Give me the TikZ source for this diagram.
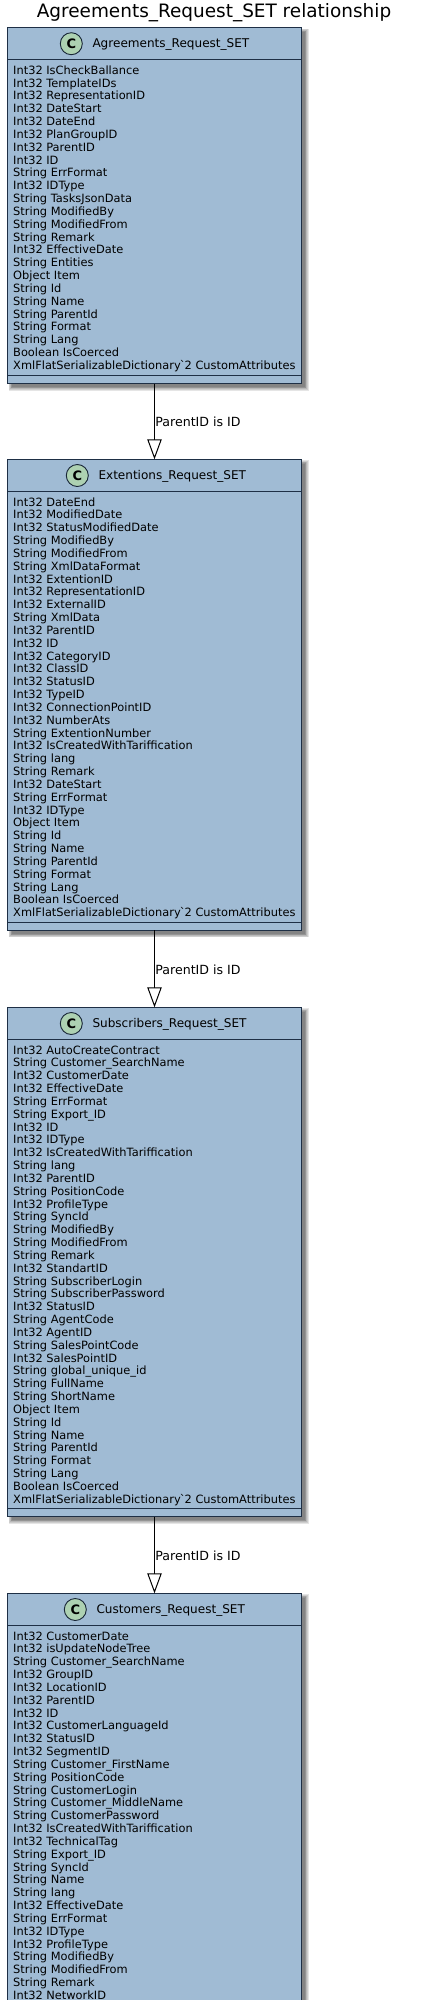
\documentclass[tikz,border=0pt]{standalone}
\usepackage{fontspec}
\setmainfont{DejaVu Sans}
\newfontface\gravefont{DejaVu Sans}
\usetikzlibrary{arrows.meta,calc}
\definecolor{classfill}{HTML}{A0BBD4}
\definecolor{classline}{HTML}{1E2F45}
\definecolor{spotfill}{HTML}{ADD1B2}
\tikzset{
  section/.style={draw=classline,fill=classfill,line width=1.3pt,minimum width=294pt,inner sep=0pt,anchor=north west,outer sep=0pt},
  shade layer/.style={fill=black,fill opacity=.10,draw=none},
  spot/.style={circle,draw=classline!80!black,fill=spotfill,line width=.9pt,minimum size=22pt,inner sep=0pt},
  spot letter/.style={font=\fontsize{13}{13}\selectfont\bfseries,text=black,inner sep=0pt},
  classtitle/.style={font=\fontsize{12.05}{13}\selectfont,anchor=base west,inner sep=0pt,text=black},
  memberlist/.style={font=\fontsize{11.4}{12.83}\selectfont,align=left,anchor=north west,inner sep=0pt,text=black},
  generalize/.style={draw=black,line width=1pt,-{Triangle[open,length=20pt,width=14.4pt,fill=white,line join=miter]}},
  edgelabel/.style={font=\fontsize{12.6}{14}\selectfont,anchor=base west,inner sep=0pt,text=black},
}
\newcommand{\btick}{{\kern-.9pt\gravefont\char96\kern-.9pt}}
% id, top y, bottom of members, bottom of box, circle x, title, members
\newcommand{\umlclass}[7]{%
  \foreach \grow in {3,2.3,1.6,.9,.2,-.5}{
    \fill[shade layer] (7.5+4-\grow,#2+4-\grow) rectangle (301.5+4+\grow,#4+4+\grow);
  }
  \node[section,minimum height=32pt] (#1-head) at (7.5,#2) {};
  \node[section,minimum height=#3-#2-32] (#1-body) at (7.5,#2+32) {};
  \node[section,minimum height=#4-#3] (#1-foot) at (7.5,#3) {};
  \node[spot] (#1-spot) at (#5,#2+16.2) {};
  \node[spot letter] (#1-letter) at (#5,#2+16.2) {C};
  \node[classtitle] (#1-title) at (#5+21,#2+20.4) {#6};
  \node[memberlist] (#1-members) at (13,#2+37.6) {\rule{0pt}{9pt}#7};
}
\begin{document}
\begin{tikzpicture}[x=1pt,y=-1pt]
\useasboundingbox (0,0) rectangle (440,2000);
\clip (0,0) rectangle (440,2000);
\fill[white] (0,0) rectangle (440,2000);
\node[font=\fontsize{18.45}{20}\selectfont,anchor=base,inner sep=0pt,text=black] (diagramtitle) at (214,17.3) {Agreements\_Request\_SET relationship};

\umlclass{agreements}{27.5}{375.5}{383.5}{71.3}{Agreements\_Request\_SET}{%
Int32 IsCheckBallance\\Int32 TemplateIDs\\Int32 RepresentationID\\Int32 DateStart\\Int32 DateEnd\\Int32 PlanGroupID\\Int32 ParentID\\Int32 ID\\String ErrFormat\\Int32 IDType\\String TasksJsonData\\String ModifiedBy\\String ModifiedFrom\\String Remark\\Int32 EffectiveDate\\String Entities\\Object Item\\String Id\\String Name\\String ParentId\\String Format\\String Lang\\Boolean IsCoerced\\XmlFlatSerializableDictionary\btick 2 CustomAttributes}

\umlclass{extentions}{459.3}{922.3}{930.3}{77.3}{Extentions\_Request\_SET}{%
Int32 DateEnd\\Int32 ModifiedDate\\Int32 StatusModifiedDate\\String ModifiedBy\\String ModifiedFrom\\String XmlDataFormat\\Int32 ExtentionID\\Int32 RepresentationID\\Int32 ExternalID\\String XmlData\\Int32 ParentID\\Int32 ID\\Int32 CategoryID\\Int32 ClassID\\Int32 StatusID\\Int32 TypeID\\Int32 ConnectionPointID\\Int32 NumberAts\\String ExtentionNumber\\Int32 IsCreatedWithTariffication\\String lang\\String Remark\\Int32 DateStart\\String ErrFormat\\Int32 IDType\\Object Item\\String Id\\String Name\\String ParentId\\String Format\\String Lang\\Boolean IsCoerced\\XmlFlatSerializableDictionary\btick 2 CustomAttributes}

\umlclass{subscribers}{1007.3}{1508.3}{1516.5}{71.3}{Subscribers\_Request\_SET}{%
Int32 AutoCreateContract\\String Customer\_SearchName\\Int32 CustomerDate\\Int32 EffectiveDate\\String ErrFormat\\String Export\_ID\\Int32 ID\\Int32 IDType\\Int32 IsCreatedWithTariffication\\String lang\\Int32 ParentID\\String PositionCode\\Int32 ProfileType\\String SyncId\\String ModifiedBy\\String ModifiedFrom\\String Remark\\Int32 StandartID\\String SubscriberLogin\\String SubscriberPassword\\Int32 StatusID\\String AgentCode\\Int32 AgentID\\String SalesPointCode\\Int32 SalesPointID\\String global\_unique\_id\\String FullName\\String ShortName\\Object Item\\String Id\\String Name\\String ParentId\\String Format\\String Lang\\Boolean IsCoerced\\XmlFlatSerializableDictionary\btick 2 CustomAttributes}

\umlclass{customers}{1593.3}{2100}{2110}{75.3}{Customers\_Request\_SET}{%
Int32 CustomerDate\\Int32 isUpdateNodeTree\\String Customer\_SearchName\\Int32 GroupID\\Int32 LocationID\\Int32 ParentID\\Int32 ID\\Int32 CustomerLanguageId\\Int32 StatusID\\Int32 SegmentID\\String Customer\_FirstName\\String PositionCode\\String CustomerLogin\\String Customer\_MiddleName\\String CustomerPassword\\Int32 IsCreatedWithTariffication\\Int32 TechnicalTag\\String Export\_ID\\String SyncId\\String Name\\String lang\\Int32 EffectiveDate\\String ErrFormat\\Int32 IDType\\Int32 ProfileType\\String ModifiedBy\\String ModifiedFrom\\String Remark\\Int32 NetworkID}

\draw[generalize] (agreements-foot.south) -- (extentions-head.north);
\draw[generalize] (extentions-foot.south) -- (subscribers-head.north);
\draw[generalize] (subscribers-foot.south) -- (customers-head.north);
\node[edgelabel] (label-a) at (155.2,426.3) {ParentID is ID};
\node[edgelabel] (label-b) at (155.2,974.3) {ParentID is ID};
\node[edgelabel] (label-c) at (155.2,1560.3) {ParentID is ID};
\end{tikzpicture}
\end{document}
